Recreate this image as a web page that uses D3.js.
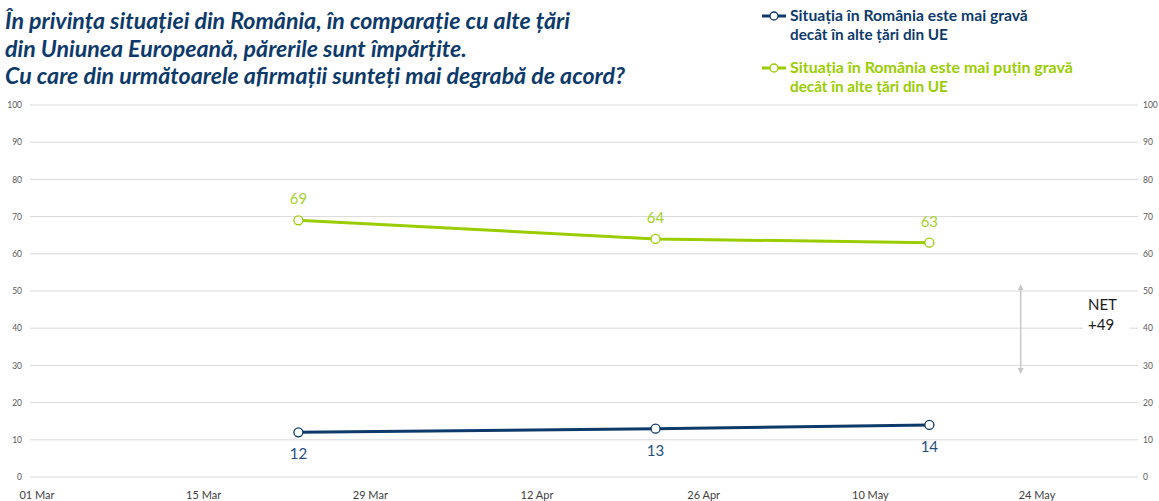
<!DOCTYPE html>
<html>
<head>
<meta charset="utf-8">
<script src="https://cdn.jsdelivr.net/npm/d3@7"></script>
<style>
  body { margin: 0; background: #fff; }
  text { font-family: Lato, "Open Sans", sans-serif; }
</style>
</head>
<body>
<div class="viz"></div>
<script>
// data
var surveyDates = ["2020-03-23", "2020-04-22", "2020-05-15"];
var worseValues = [12, 13, 14];
var lessWorseValues = [69, 64, 63];
var xTicks = ["2020-03-01", "2020-03-15", "2020-03-29", "2020-04-12", "2020-04-26", "2020-05-10", "2020-05-24"];
var yTicks = [0, 10, 20, 30, 40, 50, 60, 70, 80, 90, 100];
var titleLines = [
    "În privința situației din România, în comparație cu alte țări",
    "din Uniunea Europeană, părerile sunt împărțite.",
    "Cu care din următoarele afirmații sunteți mai degrabă de acord?"
];
var seriesNames = [
    ["Situația în România este mai gravă", "decât în alte țări din UE"],
    ["Situația în România este mai puțin gravă", "decât în alte țări din UE"]
];

var w = 1159;
var h = 501;
var navy = "#0d3a6b";
var navyLabel = "#24507f";
var green = "#9acd00";
var greenLabel = "#a6d22e";
var parseDate = d3.timeParse("%Y-%m-%d");
var fmt = d3.timeFormat("%d %b");

var worse = surveyDates.map(function(d, i) { return { date: parseDate(d), value: worseValues[i] }; });
var lessWorse = surveyDates.map(function(d, i) { return { date: parseDate(d), value: lessWorseValues[i] }; });

var svg = d3.select(".viz")
    .append("svg")
    .attr("width", w)
    .attr("height", h);

var xScale = d3.scaleTime()
    .domain([parseDate(xTicks[0]), parseDate(xTicks[xTicks.length - 1])])
    .range([36.5, 1036.5]);

var yScale = d3.scaleLinear()
    .domain([0, 100])
    .range([477, 105]);

var gridLeft = 30, gridRight = 1138;

// fit a text to a given width by tweaking its font size
function fitWidth(sel, width) {
    var node = sel.node();
    var fs = parseFloat(sel.attr("font-size"));
    var len = node.getComputedTextLength();
    sel.attr("font-size", (fs * width / len).toFixed(2) + "px");
}

//// GRIDLINES ////
svg.append("g")
    .selectAll("line")
    .data(yTicks)
    .enter()
    .append("line")
    .attr("x1", gridLeft)
    .attr("x2", gridRight)
    .attr("y1", function(d) { return yScale(d); })
    .attr("y2", function(d) { return yScale(d); })
    .attr("stroke", "#d9d9d9")
    .attr("stroke-width", 1);

//// Y AXES (left + right) ////
var yAxisLeft = d3.axisLeft(yScale).tickValues(yTicks).tickSize(0).tickPadding(8);
var yAxisRight = d3.axisRight(yScale).tickValues(yTicks).tickSize(0).tickPadding(5);

svg.append("g")
    .attr("class", "y axis")
    .attr("transform", "translate(" + gridLeft + ",0)")
    .call(yAxisLeft);

svg.append("g")
    .attr("class", "y axis")
    .attr("transform", "translate(" + gridRight + ",0)")
    .call(yAxisRight);

svg.selectAll(".y.axis .domain").remove();
svg.selectAll(".y.axis text")
    .attr("font-family", "'Open Sans', sans-serif")
    .attr("font-size", "8.5px")
    .attr("fill", "#595959");

//// X AXIS ////
var xAxis = d3.axisBottom(xScale)
    .tickValues(xTicks.map(parseDate))
    .tickFormat(fmt)
    .tickSize(0)
    .tickPadding(14);

svg.append("g")
    .attr("class", "x axis")
    .attr("transform", "translate(0," + yScale(0) + ")")
    .call(xAxis);

svg.selectAll(".x.axis .domain").remove();
svg.selectAll(".x.axis text")
    .attr("font-family", "'Open Sans', sans-serif")
    .attr("font-size", "11px")
    .attr("fill", "#404040");

//// LINES ////
var line = d3.line()
    .x(function(d) { return xScale(d.date); })
    .y(function(d) { return yScale(d.value); });

var series = [
    { data: worse, color: navy, labelColor: navyLabel, dy: 27 },
    { data: lessWorse, color: green, labelColor: greenLabel, dy: -16 }
];

series.forEach(function(s) {
    svg.append("path")
        .datum(s.data)
        .attr("d", line)
        .attr("fill", "none")
        .attr("stroke", s.color)
        .attr("stroke-width", 3);

    svg.append("g")
        .selectAll("circle")
        .data(s.data)
        .enter()
        .append("circle")
        .attr("cx", function(d) { return xScale(d.date); })
        .attr("cy", function(d) { return yScale(d.value); })
        .attr("r", 4.5)
        .attr("fill", "#fff")
        .attr("stroke", s.color)
        .attr("stroke-width", 1.3);

    svg.append("g")
        .selectAll("text")
        .data(s.data)
        .enter()
        .append("text")
        .text(function(d) { return d.value; })
        .attr("text-anchor", "middle")
        .attr("x", function(d) { return xScale(d.date); })
        .attr("y", function(d) { return yScale(d.value) + s.dy; })
        .attr("font-size", "15px")
        .attr("fill", s.labelColor);
});

//// NET ANNOTATION ////
var netX = xScale(parseDate("2020-05-22")) + 8;
var net = lessWorseValues[lessWorseValues.length - 1] - worseValues[worseValues.length - 1];

var defs = svg.append("defs");
defs.append("marker")
    .attr("id", "arrow")
    .attr("viewBox", "0 0 10 10")
    .attr("refX", 8)
    .attr("refY", 5)
    .attr("markerWidth", 4)
    .attr("markerHeight", 4)
    .attr("orient", "auto-start-reverse")
    .append("path")
    .attr("d", "M0,0 L10,5 L0,10 z")
    .attr("fill", "#c8c8c8");

svg.append("line")
    .attr("x1", netX)
    .attr("x2", netX)
    .attr("y1", yScale(51.5))
    .attr("y2", yScale(28))
    .attr("stroke", "#c8c8c8")
    .attr("stroke-width", 1.5)
    .attr("marker-start", "url(#arrow)")
    .attr("marker-end", "url(#arrow)");

svg.append("rect")
    .attr("x", 1083)
    .attr("y", yScale(48))
    .attr("width", 47)
    .attr("height", yScale(35) - yScale(48))
    .attr("fill", "#fff");

svg.append("text")
    .attr("x", 1088)
    .attr("y", 310)
    .attr("font-size", "15px")
    .attr("fill", "#1a1a1a")
    .text("NET");

svg.append("text")
    .attr("x", 1088)
    .attr("y", 330)
    .attr("font-size", "15px")
    .attr("fill", "#1a1a1a")
    .text("+" + net);

//// TITLE ////
var titleWidths = [565, 462, 620];
titleLines.forEach(function(t, i) {
    var txt = svg.append("text")
        .attr("x", 5)
        .attr("y", 29 + i * 27.5)
        .attr("font-size", "19px")
        .attr("font-weight", "bold")
        .attr("font-style", "italic")
        .attr("fill", navy)
        .text(t);
    fitWidth(txt, titleWidths[i]);
});

//// LEGEND ////
var legendY = [16, 68];
var legendColors = [navy, green];
var legendWidths = [[238, 158], [283, 158]];
seriesNames.forEach(function(lines, i) {
    var g = svg.append("g")
        .attr("transform", "translate(762," + legendY[i] + ")");
    g.append("line")
        .attr("x1", 0)
        .attr("x2", 24)
        .attr("stroke", legendColors[i])
        .attr("stroke-width", 3);
    g.append("circle")
        .attr("cx", 12)
        .attr("r", 4)
        .attr("fill", "#fff")
        .attr("stroke", legendColors[i])
        .attr("stroke-width", 1.3);
    lines.forEach(function(t, j) {
        var txt = g.append("text")
            .attr("x", 28)
            .attr("y", 5 + j * 19)
            .attr("font-size", "14px")
            .attr("font-weight", "bold")
            .attr("fill", legendColors[i])
            .text(t);
        fitWidth(txt, legendWidths[i][j]);
    });
});
</script>
</body>
</html>
